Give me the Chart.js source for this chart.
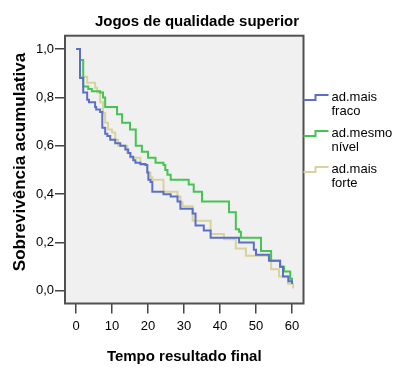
<!DOCTYPE html>
<html lang="pt">
<head>
<meta charset="UTF-8">
<title>Jogos de qualidade superior</title>
<script src="https://cdn.jsdelivr.net/npm/chart.js"></script>
<style>
  html, body { margin: 0; padding: 0; background: #fff; }
</style>
</head>
<body>
<canvas id="kmChart" width="394" height="368"></canvas>
<script>
// curvas de sobrevivencia (tempo, sobrevivencia acumulada)
const fracoT = [0, 1.1, 2.0, 3.1, 3.6, 5.3, 5.6, 6.7, 7.3, 8.1, 8.7, 9.5, 10.9, 12.3, 13.7, 14.5, 15.1, 15.9, 16.5, 17.9, 19.3, 19.8, 20.1, 20.7, 21.2, 24.3, 26.3, 28.2, 29.0, 32.4, 33.2, 35.5, 37.4, 45.3, 49.4, 50.0, 53.6, 56.7, 57.5, 59.0, 60.0];
const fracoS = [1.0, 0.88, 0.82, 0.79, 0.78, 0.76, 0.75, 0.74, 0.675, 0.65, 0.64, 0.625, 0.61, 0.60, 0.585, 0.57, 0.555, 0.54, 0.53, 0.525, 0.52, 0.49, 0.46, 0.45, 0.41, 0.40, 0.39, 0.37, 0.34, 0.32, 0.27, 0.25, 0.22, 0.20, 0.17, 0.15, 0.125, 0.10, 0.06, 0.04, 0.03];

const mesmoT = [0, 1.1, 2.0, 3.4, 4.4, 6.7, 7.5, 8.1, 11.4, 12.8, 15.0, 16.6, 18.3, 20.0, 22.1, 24.3, 24.8, 25.4, 26.3, 31.3, 32.7, 35.0, 42.5, 44.4, 45.3, 45.8, 51.4, 54.2, 56.7, 57.8, 59.5, 60.0];
const mesmoS = [1.0, 0.955, 0.845, 0.835, 0.825, 0.82, 0.80, 0.76, 0.73, 0.695, 0.667, 0.60, 0.575, 0.55, 0.53, 0.52, 0.50, 0.48, 0.46, 0.44, 0.41, 0.37, 0.325, 0.255, 0.245, 0.22, 0.165, 0.125, 0.10, 0.08, 0.05, 0.03];

const forteT = [0, 1.1, 3.1, 5.3, 5.9, 6.7, 7.5, 8.1, 8.9, 10.0, 10.9, 11.7, 14.2, 15.1, 17.9, 19.8, 20.7, 21.2, 24.3, 28.2, 29.0, 29.6, 32.4, 37.4, 41.1, 44.4, 47.2, 54.2, 56.4, 58.9, 60.3];
const forteS = [1.0, 0.885, 0.86, 0.84, 0.82, 0.78, 0.735, 0.695, 0.667, 0.655, 0.625, 0.60, 0.57, 0.55, 0.52, 0.49, 0.47, 0.46, 0.41, 0.39, 0.365, 0.35, 0.29, 0.235, 0.214, 0.175, 0.145, 0.09, 0.06, 0.03, 0.01];

const seriesNames = ['ad.mais fraco', 'ad.mesmo nível', 'ad.mais forte'];
const legendLines = [['ad.mais', 'fraco'], ['ad.mesmo', 'nível'], ['ad.mais', 'forte']];
const xTicks = [0, 10, 20, 30, 40, 50, 60];
const yTicks = [0, 0.2, 0.4, 0.6, 0.8, 1.0];
const yTitulo = 'Sobrevivência acumulativa';

const FONT = '"Liberation Sans", Arial, sans-serif';
const colors = ['#5b6fc8', '#44c451', '#d8d29c'];

function pontos(ts, ss) {
  return ts.map((t, i) => ({ x: t, y: ss[i] }));
}

// fundo cinza e moldura da area do grafico
const framePlugin = {
  id: 'plotFrame',
  beforeDraw(chart) {
    const a = chart.chartArea, ctx = chart.ctx;
    ctx.save();
    ctx.fillStyle = '#f0f0f0';
    ctx.fillRect(a.left, a.top, a.right - a.left, a.bottom - a.top);
    ctx.restore();
  },
  afterDraw(chart) {
    const a = chart.chartArea, ctx = chart.ctx;
    ctx.save();
    ctx.strokeStyle = '#505050';
    ctx.lineWidth = 2;
    ctx.strokeRect(a.left, a.top, a.right - a.left, a.bottom - a.top);
    // titulo do eixo y (um pouco acima do centro, como no original)
    ctx.translate(20, 162);
    ctx.rotate(-Math.PI / 2);
    ctx.font = 'bold 17px ' + FONT;
    ctx.fillStyle = '#000';
    ctx.textAlign = 'center';
    ctx.textBaseline = 'middle';
    ctx.fillText(yTitulo, 0, 0);
    ctx.restore();
  }
};

// legenda com icone em degrau e texto em duas linhas
const legendPlugin = {
  id: 'kmLegend',
  afterDraw(chart) {
    const ctx = chart.ctx;
    const x0 = chart.chartArea.right;
    ctx.save();
    ctx.font = '13px ' + FONT;
    ctx.fillStyle = '#000';
    ctx.textBaseline = 'alphabetic';
    chart.data.datasets.forEach((ds, i) => {
      const base = 101 + i * 36;
      ctx.strokeStyle = ds.borderColor;
      ctx.lineWidth = 2;
      ctx.beginPath();
      ctx.moveTo(x0, base - 1);
      ctx.lineTo(x0 + 12, base - 1);
      ctx.lineTo(x0 + 12, base - 6);
      ctx.lineTo(x0 + 25, base - 6);
      ctx.stroke();
      legendLines[i].forEach((txt, j) => ctx.fillText(txt, x0 + 28, base + j * 14));
    });
    ctx.restore();
  }
};

const eixoComum = {
  type: 'linear',
  grid: { drawOnChartArea: false, drawTicks: true, tickLength: 10, color: '#444', lineWidth: 1.5 },
  border: { display: false },
  ticks: { color: '#000', font: { family: FONT, size: 13 } }
};

new Chart(document.getElementById('kmChart').getContext('2d'), {
  type: 'line',
  data: {
    datasets: [
      { label: seriesNames[0], data: pontos(fracoT, fracoS), borderColor: colors[0] },
      { label: seriesNames[1], data: pontos(mesmoT, mesmoS), borderColor: colors[1] },
      { label: seriesNames[2], data: pontos(forteT, forteS), borderColor: colors[2] }
    ].map(d => Object.assign(d, { stepped: true, pointRadius: 0, borderWidth: 2, fill: false }))
  },
  options: {
    responsive: false,
    animation: false,
    layout: { padding: 0 },
    plugins: {
      legend: { display: false },
      tooltip: { enabled: false },
      title: {
        display: true,
        text: 'Jogos de qualidade superior',
        color: '#000',
        font: { family: FONT, size: 15, weight: 'bold' },
        padding: { top: 12.5, bottom: 5.2 }
      }
    },
    scales: {
      x: Object.assign({}, eixoComum, {
        min: -3.06,
        max: 63.2,
        afterBuildTicks: s => { s.ticks = xTicks.map(v => ({ value: v })); },
        afterFit: s => { s.height = 64.5; },
        ticks: Object.assign({}, eixoComum.ticks, { padding: 5 }),
        title: {
          display: true,
          text: 'Tempo resultado final',
          color: '#000',
          font: { family: FONT, size: 15, weight: 'bold' },
          padding: { top: 0, bottom: 2 }
        }
      }),
      y: Object.assign({}, eixoComum, {
        min: -0.052,
        max: 1.055,
        afterBuildTicks: s => { s.ticks = yTicks.map(v => ({ value: v })); },
        afterFit: s => { s.width = 65; },
        ticks: Object.assign({}, eixoComum.ticks, {
          padding: 1,
          callback: v => v.toFixed(1).replace('.', ',')
        })
      }),
      // eixo vazio a direita: reserva espaco para a legenda
      espaco: {
        type: 'linear',
        position: 'right',
        grid: { display: false },
        border: { display: false },
        ticks: { display: false },
        afterFit: s => { s.width = 90.5; }
      }
    }
  },
  plugins: [framePlugin, legendPlugin]
});
</script>
</body>
</html>
